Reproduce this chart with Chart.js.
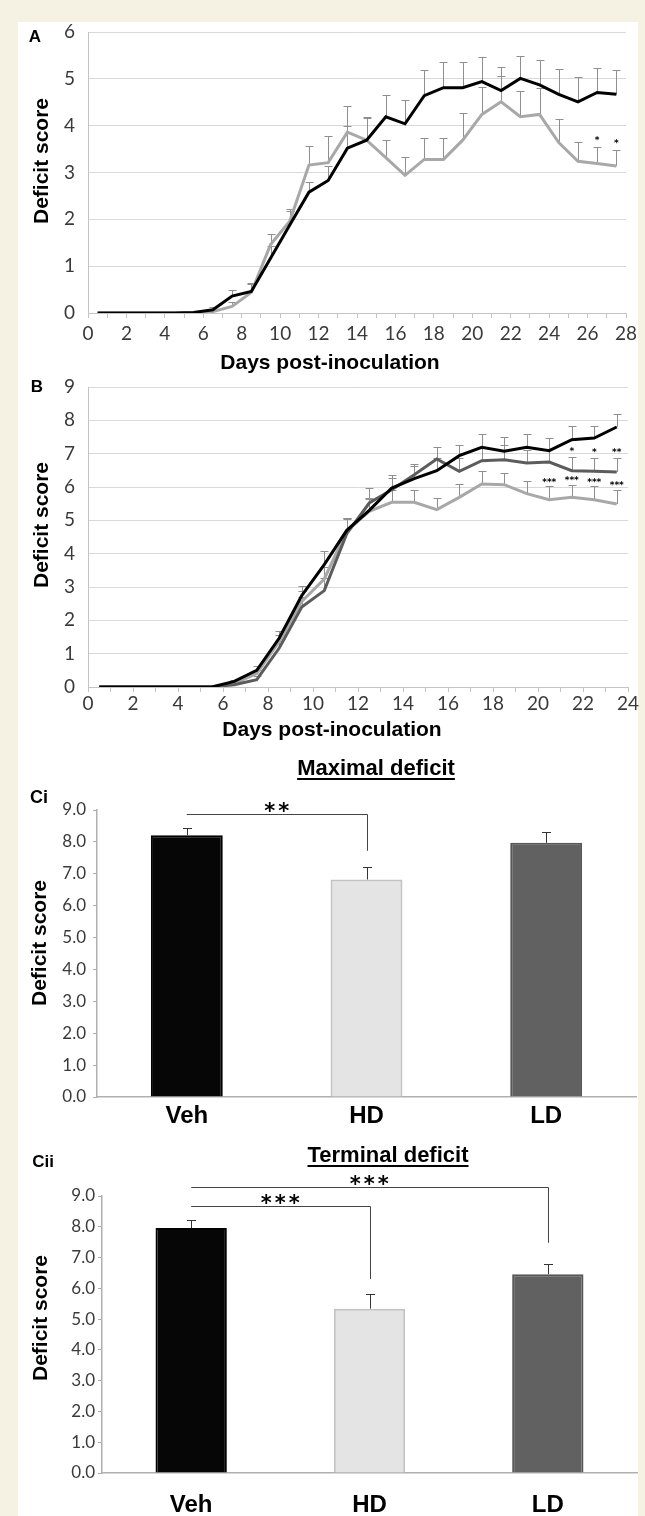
<!DOCTYPE html>
<html>
<head>
<meta charset="utf-8">
<script src="https://cdn.jsdelivr.net/npm/chart.js@4.4.0/dist/chart.umd.min.js"></script>
<style>
    html, body { margin: 0; padding: 0; }
    body { width: 645px; height: 1516px; background: #f5f1e3; position: relative; overflow: hidden;
           font-family: "Liberation Sans", Arial, sans-serif; }
    #panel { position: absolute; left: 18px; top: 22px; width: 620px; height: 1494px; background: #fff; }
    canvas { position: absolute; left: 0; }
    .lbl { position: absolute; white-space: nowrap; line-height: 1; font-weight: bold; color: #000; }
</style>
</head>
<body>
<div id="panel"></div>
<canvas id="chartA" width="645" height="345" style="top:0px;width:645px;height:345px"></canvas>
<canvas id="chartB" width="645" height="374" style="top:345px;width:645px;height:374px"></canvas>
<canvas id="chartCi" width="645" height="395" style="top:740px;width:645px;height:395px"></canvas>
<canvas id="chartCii" width="645" height="381" style="top:1135px;width:645px;height:381px"></canvas>

<script>
// ---- Panel A : deficit score over time (points sit between the day tick marks) ----
const daysA = [0.5, 1.5, 2.5, 3.5, 4.5, 5.5, 6.5, 7.5, 8.5, 9.5, 10.5, 11.5, 12.5, 13.5,
               14.5, 15.5, 16.5, 17.5, 18.5, 19.5, 20.5, 21.5, 22.5, 23.5, 24.5, 25.5, 26.5, 27.5];
const vehA = [0, 0, 0, 0, 0, 0.01, 0.07, 0.36, 0.46, 1.17, 1.88, 2.58, 2.83, 3.52,
              3.69, 4.19, 4.04, 4.64, 4.81, 4.81, 4.94, 4.75, 5.01, 4.87, 4.67, 4.51, 4.71, 4.67];
const vehAErr = [0, 0, 0, 0, 0, 0, 0.05, 0.14, 0.15, 0.25, 0.3, 0.21, 0.3, 0.47,
                 0.5, 0.47, 0.51, 0.55, 0.56, 0.54, 0.52, 0.5, 0.47, 0.54, 0.54, 0.53, 0.53, 0.51];
const drugA = [0, 0, 0, 0, 0, 0, 0.03, 0.14, 0.44, 1.46, 1.96, 3.16, 3.21, 3.86,
               3.69, 3.32, 2.94, 3.28, 3.28, 3.69, 4.24, 4.51, 4.19, 4.24, 3.64, 3.24, 3.19, 3.14];
const drugAErr = [0, 0, 0, 0, 0, 0, 0.03, 0.1, 0.2, 0.22, 0.27, 0.41, 0.57, 0.55,
                  0.47, 0.37, 0.39, 0.45, 0.46, 0.57, 0.59, 0.56, 0.55, 0.56, 0.5, 0.42, 0.36, 0.35];
const sigA = ['', '', '', '', '', '', '', '', '', '', '', '', '', '',
              '', '', '', '', '', '', '', '', '', '', '', '', '*', '*'];

// ---- Panel B : Veh / HD / LD ----
const daysB = [0.5, 1.5, 2.5, 3.5, 4.5, 5.5, 6.5, 7.5, 8.5, 9.5, 10.5, 11.5,
               12.5, 13.5, 14.5, 15.5, 16.5, 17.5, 18.5, 19.5, 20.5, 21.5, 22.5, 23.5];
const vehB = [0, 0, 0, 0, 0, 0, 0.17, 0.5, 1.47, 2.74, 3.67, 4.7,
              5.3, 5.97, 6.25, 6.49, 6.94, 7.19, 7.07, 7.19, 7.09, 7.42, 7.47, 7.8];
const vehBErr = [0, 0, 0, 0, 0, 0, 0.04, 0.14, 0.2, 0.28, 0.4, 0.38,
                 0.35, 0.4, 0.37, 0.38, 0.33, 0.4, 0.42, 0.4, 0.38, 0.4, 0.35, 0.4];
const ldB = [0, 0, 0, 0, 0, 0, 0.07, 0.22, 1.17, 2.4, 2.89, 4.6,
             5.52, 5.92, 6.37, 6.84, 6.47, 6.79, 6.82, 6.72, 6.75, 6.49, 6.47, 6.45];
const ldBErr = [0, 0, 0, 0, 0, 0, 0.03, 0.1, 0.2, 0.3, 0.38, 0.45,
                0.45, 0.35, 0.32, 0.37, 0.4, 0.4, 0.45, 0.4, 0.4, 0.4, 0.4, 0.42];
const hdB = [0, 0, 0, 0, 0, 0, 0.1, 0.4, 1.37, 2.57, 3.24, 4.68,
             5.27, 5.54, 5.54, 5.32, 5.69, 6.09, 6.07, 5.8, 5.62, 5.69, 5.62, 5.49];
const hdBErr = [0, 0, 0, 0, 0, 0, 0.03, 0.1, 0.2, 0.3, 0.35, 0.4,
                0.4, 0.36, 0.36, 0.35, 0.4, 0.38, 0.35, 0.39, 0.4, 0.38, 0.4, 0.43];
const sigLdB = ['', '', '', '', '', '', '', '', '', '', '', '',
                '', '', '', '', '', '', '', '', '', '*', '*', '**'];
const sigHdB = ['', '', '', '', '', '', '', '', '', '', '', '',
                '', '', '', '', '', '', '', '', '***', '***', '***', '***'];

// ---- Panels Ci / Cii : bar charts ----
const groups = ['Veh', 'HD', 'LD'];
const maxDeficit = [8.21, 6.82, 7.97];
const maxDeficitErr = [0.24, 0.4, 0.33];
const terminalDeficit = [7.96, 5.34, 6.46];
const terminalDeficitErr = [0.27, 0.49, 0.34];
// significance brackets: group index from/to, line level and drop end (score units)
const bracketsCi = [{ from: 0, to: 1, level: 8.87, drop: 7.72, text: '**' }];
const bracketsCii = [
    { from: 0, to: 1, level: 8.68, drop: 6.3, text: '***' },
    { from: 0, to: 2, level: 9.28, drop: 7.48, text: '***' }
];

Chart.defaults.font.family = 'Lato, "Open Sans", sans-serif';
Chart.defaults.color = '#3a3a3a';
Chart.defaults.animation = false;
Chart.defaults.plugins.legend.display = false;
Chart.defaults.plugins.tooltip.enabled = false;

// text drawn so that its ink box is centred on (cx, cy)
function drawCentered(ctx, text, cx, cy, font) {
    ctx.font = font;
    ctx.fillStyle = '#000';
    ctx.textAlign = 'center';
    ctx.textBaseline = 'alphabetic';
    const m = ctx.measureText(text);
    ctx.fillText(text, cx, cy + (m.actualBoundingBoxAscent - m.actualBoundingBoxDescent) / 2);
}

function valueOf(d) {
    return (d !== null && typeof d === 'object') ? d.y : d;
}

// upper error bars + star marks above them
const errorBars = {
    id: 'errorBars',
    beforeDatasetsDraw(chart, args, opts) {
        if (opts.front) return;
        drawErrors(chart, opts);
    },
    afterDatasetsDraw(chart, args, opts) {
        if (opts.front) drawErrors(chart, opts);
        drawStars(chart, opts);
    }
};

function drawErrors(chart, opts) {
    const ctx = chart.ctx;
    const yScale = chart.scales.y;
    ctx.save();
    ctx.lineWidth = 1;
    chart.data.datasets.forEach((ds, di) => {
        if (!ds.errUp) return;
        const meta = chart.getDatasetMeta(di);
        ctx.strokeStyle = opts.color || '#8c8c8c';
        meta.data.forEach((el, i) => {
            const e = ds.errUp[i];
            if (!e) return;
            const v = valueOf(ds.data[i]);
            const x = Math.round(el.x) + 0.5;
            const top = Math.round(yScale.getPixelForValue(v + e)) + 0.5;
            const base = yScale.getPixelForValue(v);
            ctx.beginPath();
            ctx.moveTo(x, base);
            ctx.lineTo(x, top);
            ctx.moveTo(x - opts.cap, top);
            ctx.lineTo(x + opts.cap, top);
            ctx.stroke();
        });
    });
    ctx.restore();
}

function drawStars(chart, opts) {
    const ctx = chart.ctx;
    const yScale = chart.scales.y;
    ctx.save();
    chart.data.datasets.forEach((ds, di) => {
        if (!ds.sig) return;
        const meta = chart.getDatasetMeta(di);
        meta.data.forEach((el, i) => {
            if (!ds.sig[i]) return;
            const v = valueOf(ds.data[i]) + (ds.errUp ? ds.errUp[i] : 0);
            drawCentered(ctx, ds.sig[i], el.x, yScale.getPixelForValue(v) - ds.sigGap, opts.starFont);
        });
    });
    ctx.restore();
}

const brackets = {
    id: 'brackets',
    afterDatasetsDraw(chart, args, opts) {
        if (!opts.items) return;
        const { ctx, scales: { x, y } } = chart;
        ctx.save();
        ctx.strokeStyle = '#444';
        ctx.lineWidth = 1;
        opts.items.forEach(b => {
            const x0 = x.getPixelForValue(b.from);
            const x1 = Math.round(x.getPixelForValue(b.to)) + 0.5;
            const yl = Math.round(y.getPixelForValue(b.level)) + 0.5;
            ctx.beginPath();
            ctx.moveTo(x0, yl);
            ctx.lineTo(x1, yl);
            ctx.lineTo(x1, y.getPixelForValue(b.drop));
            ctx.stroke();
            ctx.letterSpacing = '3px';
            drawCentered(ctx, b.text, (x0 + x1) / 2 + 1, yl - 8, 'bold 21px "DejaVu Sans"');
            ctx.letterSpacing = '0px';
        });
        ctx.restore();
    }
};

Chart.register(errorBars, brackets);

function toPoints(days, values) {
    return days.map((d, i) => ({ x: d, y: values[i] }));
}

function createLineChart(canvasId, days, datasets, o) {
    const canvas = document.getElementById(canvasId);
    return new Chart(canvas, {
        type: 'line',
        data: {
            datasets: datasets.map(s => ({
                data: toPoints(days, s.values),
                errUp: s.err,
                sig: s.sig,
                sigGap: s.sigGap,
                borderColor: s.color,
                borderWidth: 3,
                pointRadius: 0,
                tension: 0
            }))
        },
        options: {
            responsive: false,
            devicePixelRatio: 1,
            layout: { padding: { top: o.padTop, right: o.padRight, bottom: 0, left: 0 } },
            plugins: {
                errorBars: { cap: 4, color: '#8f8f8f', starFont: 'bold 9px "DejaVu Sans"' }
            },
            scales: {
                x: {
                    type: 'linear', min: 0, max: o.xMax,
                    ticks: {
                        stepSize: 1, autoSkip: false, maxRotation: 0, padding: o.xPad,
                        font: { size: 19 }, color: '#3a3a3a',
                        callback: v => (Math.round(v) % 2 === 0 ? Math.round(v) : '')
                    },
                    grid: { drawOnChartArea: false, drawTicks: true, tickLength: 5, color: '#c4c4c4' },
                    border: { display: true, color: '#c4c4c4' },
                    afterFit: s => { s.height = o.xHeight; }
                },
                y: {
                    min: 0, max: o.yMax,
                    ticks: { stepSize: 1, padding: 13, font: { size: 19 }, color: '#3a3a3a' },
                    grid: { drawTicks: false, color: '#d9d9d9' },
                    border: { display: true, color: '#c4c4c4' },
                    afterFit: s => { s.width = 88; }
                }
            }
        }
    });
}

function createBarChart(canvasId, values, errs, bracketItems, o) {
    const canvas = document.getElementById(canvasId);
    return new Chart(canvas, {
        type: 'bar',
        data: {
            labels: groups,
            datasets: [{
                data: values,
                errUp: errs,
                backgroundColor: ['#060606', '#e4e4e4', '#616161'],
                borderColor: ['#000', '#c2c2c2', '#575757'],
                borderWidth: 2,
                barPercentage: 0.4,
                categoryPercentage: 1
            }]
        },
        options: {
            responsive: false,
            devicePixelRatio: 1,
            layout: { padding: { top: o.padTop, right: o.padRight, bottom: 0, left: 0 } },
            plugins: {
                errorBars: { cap: 4.5, color: '#333', front: true },
                brackets: { items: bracketItems }
            },
            scales: {
                x: {
                    ticks: {
                        padding: o.xPad, color: '#000',
                        font: { family: '"Liberation Sans", Arial, sans-serif', size: 24, weight: 'bold' }
                    },
                    grid: { drawOnChartArea: false, drawTicks: false },
                    border: { display: true, color: '#b0b0b0', width: 1.5 },
                    afterFit: s => { s.height = o.xHeight; }
                },
                y: {
                    min: 0, max: 9,
                    ticks: { stepSize: 1, padding: o.yPad, font: { size: 17 }, color: '#3a3a3a',
                             callback: v => v.toFixed(1) },
                    grid: { drawOnChartArea: false, drawTicks: true, tickLength: 4, color: '#aaa' },
                    border: { display: true, color: '#b0b0b0', width: 1.5 },
                    afterFit: s => { s.width = o.yWidth; }
                }
            }
        }
    });
}

createLineChart('chartA', daysA, [
    { values: vehA, err: vehAErr, color: '#000' },
    { values: drugA, err: drugAErr, color: '#a8a8a8', sig: sigA, sigGap: 8 }
], { xMax: 28, yMax: 6, padTop: 32, padRight: 19, xHeight: 32, xPad: 4 });

createLineChart('chartB', daysB, [
    { values: vehB, err: vehBErr, color: '#000' },
    { values: ldB, err: ldBErr, color: '#5c5c5c', sig: sigLdB, sigGap: 8 },
    { values: hdB, err: hdBErr, color: '#a8a8a8', sig: sigHdB, sigGap: 6 }
], { xMax: 24, yMax: 9, padTop: 42, padRight: 17, xHeight: 32, xPad: 0 });

createBarChart('chartCi', maxDeficit, maxDeficitErr, bracketsCi,
    { padTop: 70, padRight: 9, xHeight: 38, xPad: 5, yWidth: 97, yPad: 7 });
createBarChart('chartCii', terminalDeficit, terminalDeficitErr, bracketsCii,
    { padTop: 61, padRight: 8, xHeight: 43, xPad: 18, yWidth: 102, yPad: 3 });

// panel letters, titles and axis titles
function addText(text, cx, cy, size, opts = {}) {
    const el = document.createElement('div');
    el.className = 'lbl';
    el.textContent = text;
    el.style.left = cx + 'px';
    el.style.top = cy + 'px';
    el.style.fontSize = size + 'px';
    el.style.transform = 'translate(-50%, -50%)' + (opts.rotate ? ' rotate(-90deg)' : '');
    if (opts.underline) {
        el.style.textDecoration = 'underline';
        el.style.textDecorationThickness = '2px';
        el.style.textUnderlineOffset = '3px';
    }
    document.body.appendChild(el);
}

addText('A', 35, 36, 17);
addText('Deficit score', 40, 161, 21, { rotate: true });
addText('Days post-inoculation', 330, 361, 21);

addText('B', 37, 386, 17);
addText('Deficit score', 40, 525, 21, { rotate: true });
addText('Days post-inoculation', 332, 728, 21);

addText('Maximal deficit', 376, 768, 22, { underline: true });
addText('Ci', 39, 797, 18);
addText('Deficit score', 38, 943, 21, { rotate: true });

addText('Terminal deficit', 388, 1155, 22, { underline: true });
addText('Cii', 43, 1161, 17);
addText('Deficit score', 39, 1318, 21, { rotate: true });
</script>
</body>
</html>
